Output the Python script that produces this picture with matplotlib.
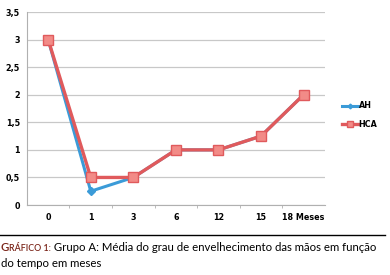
import matplotlib
matplotlib.use("Agg")
import matplotlib.pyplot as plt

categories = ["0", "1", "3", "6", "12", "15", "18 Meses"]
ah = [3, 0.25, 0.5, 1, 1, 1.25, 2]
hca = [3, 0.5, 0.5, 1, 1, 1.25, 2]
yticks = [0, 0.5, 1, 1.5, 2, 2.5, 3, 3.5]
ytick_labels = ["0", "0,5", "1", "1,5", "2", "2,5", "3", "3,5"]

plt.rcParams["font.family"] = ["Lato", "DejaVu Sans"]
tick_font = {"family": "DejaVu Sans", "weight": "bold", "size": 5.8}

fig = plt.figure(figsize=(3.9, 2.75), dpi=100)
fig.patch.set_facecolor("white")
ax = fig.add_axes([0.069, 0.2545, 0.764, 0.7015])

x = list(range(len(categories)))
ax.plot(x, ah, color="#3b9bd8", lw=2.2, marker="D", ms=4,
        mfc="#3b9bd8", mec="#3b9bd8", label="AH", zorder=3)
ax.plot(x, hca, color="#e05a5c", lw=2.4, marker="s", ms=6.5,
        mfc="#f28b87", mec="#e05a5c", mew=1, label="HCA", zorder=4)

ax.set_xlim(-0.5, len(categories) - 0.5)
ax.set_ylim(0, 3.5)
ax.set_yticks(yticks)
ax.set_yticklabels(ytick_labels, fontdict=tick_font)
ax.set_xticks(x)
ax.set_xticklabels(categories, fontdict=tick_font)
ax.set_xticks([i + 0.5 for i in x[:-1]], minor=True)
ax.tick_params(axis="x", which="major", length=0, pad=6)
ax.tick_params(axis="x", which="minor", length=2.5, color="#b0b0b0", direction="out")
ax.tick_params(axis="y", length=0, pad=5)
ax.grid(axis="y", color="#c8c8c8", lw=0.9)
ax.set_axisbelow(True)
for s in ["top", "right"]:
    ax.spines[s].set_visible(False)
ax.spines["left"].set_color("#b0b0b0")
ax.spines["bottom"].set_color("#b0b0b0")

leg = ax.legend(loc="center left", bbox_to_anchor=(1.04, 0.465), frameon=False,
                prop={"family": "DejaVu Sans", "weight": "bold", "size": 5.8},
                handlelength=2.0, handletextpad=0.1, markerscale=0.6,
                labelspacing=1.2, borderaxespad=0.2)

# caption rule and caption
fig.add_artist(plt.Line2D([0, 0.987], [1 - 235 / 275] * 2, color="black", lw=1))

renderer = fig.canvas.get_renderer()
y1 = 1 - 251 / 275
xpos = 0.002
pieces = [("G", 8.3, "#7a2418", "semibold"), ("RÁFICO 1:", 6.4, "#7a2418", "semibold"),
          (" Grupo A: Média do grau de envelhecimento das mãos em função", 8.2, "black", "normal")]
for txt, size, col, wt in pieces:
    t = fig.text(xpos, y1, txt, fontsize=size, color=col, fontweight=wt,
                 ha="left", va="baseline")
    bb = t.get_window_extent(renderer=renderer)
    xpos += bb.width / fig.bbox.width
fig.text(0.002, 1 - 267 / 275, "do tempo em meses", fontsize=8.2, color="black",
         ha="left", va="baseline")

fig.savefig("out.png", dpi=100, facecolor="white")
